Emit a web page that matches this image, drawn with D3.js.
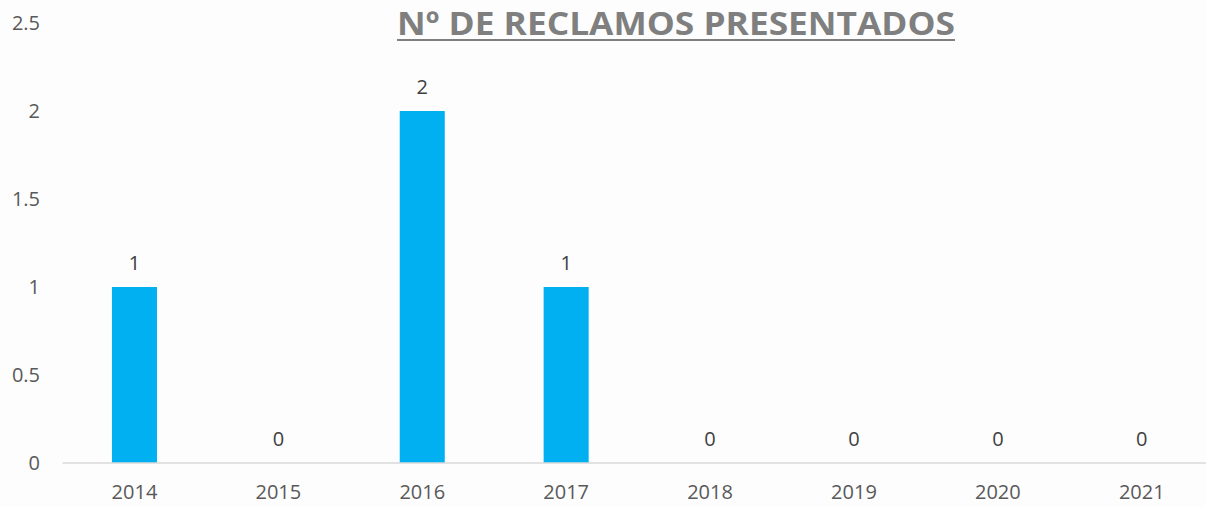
<!DOCTYPE html>
<html>
<head>
<meta charset="utf-8">
<script src="https://cdn.jsdelivr.net/npm/d3@7"></script>
<style>
  html, body { margin: 0; padding: 0; background: #fdfdfd; }
  svg { display: block; }
</style>
</head>
<body>
<svg id="chart" width="1206" height="507"></svg>
<script>
// Reclamos presentados por año
const years = ["2014", "2015", "2016", "2017", "2018", "2019", "2020", "2021"];
const reclamos = [1, 0, 2, 1, 0, 0, 0, 0];
const yTicks = [0, 0.5, 1, 1.5, 2, 2.5];
const titulo = "Nº DE RECLAMOS PRESENTADOS";

const svg = d3.select("#chart");
const W = 1206, H = 507;
const font = "'Open Sans', 'DejaVu Sans', sans-serif";

const x = d3.scaleBand()
  .domain(years)
  .range([62.5, 1213.7])
  .paddingInner(0.687)
  .paddingOuter(0.3435);

const y = d3.scaleLinear()
  .domain([0, 2.5])
  .range([463, 23]);

// Y axis labels (no line, no ticks)
const yAxis = svg.append("g")
  .attr("transform", "translate(40,0)")
  .call(d3.axisLeft(y).tickValues(yTicks).tickSize(0).tickPadding(0)
    .tickFormat(d => String(d)));
yAxis.select(".domain").remove();
yAxis.selectAll("text")
  .attr("font-family", font)
  .attr("font-size", 20)
  .attr("fill", "#595959");

// Bars
svg.append("g").selectAll("rect")
  .data(years.map((yr, i) => ({ yr, v: reclamos[i] })))
  .join("rect")
  .attr("x", d => x(d.yr))
  .attr("width", x.bandwidth())
  .attr("y", d => y(d.v))
  .attr("height", d => y(0) - y(d.v))
  .attr("fill", "#00b0f0");

// Baseline
svg.append("line")
  .attr("x1", 62.5).attr("x2", W)
  .attr("y1", y(0)).attr("y2", y(0))
  .attr("stroke", "#d9d9d9")
  .attr("stroke-width", 1.5);

// X axis labels
const xAxis = svg.append("g")
  .attr("transform", `translate(0,${y(0)})`)
  .call(d3.axisBottom(x).tickSize(0).tickPadding(22));
xAxis.select(".domain").remove();
xAxis.selectAll("text")
  .attr("font-family", font)
  .attr("font-size", 20)
  .attr("fill", "#595959");

// Data labels
svg.append("g").selectAll("text")
  .data(years.map((yr, i) => ({ yr, v: reclamos[i] })))
  .join("text")
  .attr("x", d => x(d.yr) + x.bandwidth() / 2)
  .attr("y", d => y(d.v) - 17)
  .attr("text-anchor", "middle")
  .attr("font-family", font)
  .attr("font-size", 20)
  .attr("fill", "#404040")
  .text(d => d.v);

// Title with underline
const t = svg.append("text")
  .attr("x", 676)
  .attr("y", 35)
  .attr("text-anchor", "middle")
  .attr("font-family", font)
  .attr("font-weight", "bold")
  .attr("font-size", 33)
  .attr("fill", "#7f7f7f")
  .attr("textLength", 558)
  .attr("lengthAdjust", "spacingAndGlyphs")
  .text(titulo);

svg.append("line")
  .attr("x1", 397).attr("x2", 955)
  .attr("y1", 40).attr("y2", 40)
  .attr("stroke", "#7f7f7f")
  .attr("stroke-width", 2);
</script>
</body>
</html>
